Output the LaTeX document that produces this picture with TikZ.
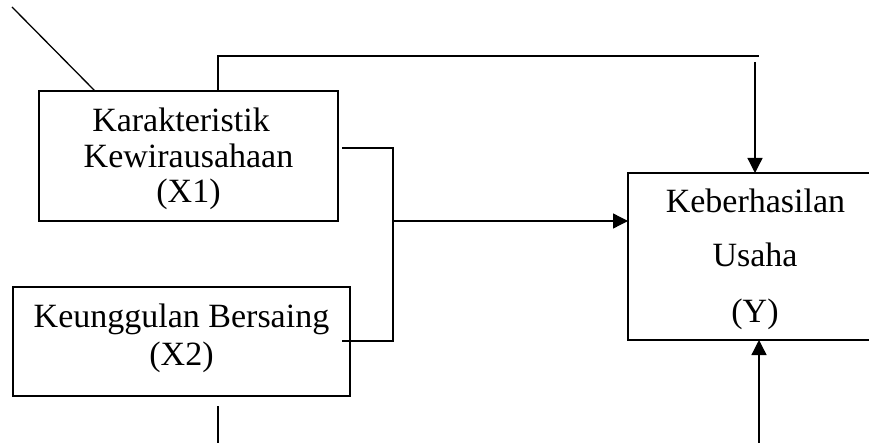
\documentclass[tikz,border=0pt]{standalone}
\usepackage{fontspec}
\setmainfont{Liberation Serif}
\usetikzlibrary{arrows.meta}
\begin{document}
\begin{tikzpicture}[x=1pt,y=-1pt,
  box/.style={draw,line width=1.3pt,inner sep=0pt},
  txt/.style={anchor=base,inner sep=0pt,font=\fontsize{34}{36}\selectfont},
  conn/.style={line width=1.3pt},
  arr/.style={line width=1.3pt,-{Triangle[length=15pt,width=15pt]}}]
\useasboundingbox (0,0) rectangle (869,443);
\clip (0,0) rectangle (869,443);
% boxes
\node[box,minimum width=299pt,minimum height=130pt] (x1) at (188.5,156) {};
\node[box,minimum width=337pt,minimum height=109pt] (x2) at (181.5,341.5) {};
\node[box,minimum width=300pt,minimum height=167pt] (y) at (778,256.5) {};
% texts
\node[txt] (t1a) at (181,132) {Karakteristik};
\node[txt] (t1b) at (188.5,168) {Kewirausahaan};
\node[txt] (t1c) at (188.5,203) {(X1)};
\node[txt] (t2a) at (181.5,327) {Keunggulan Bersaing};
\node[txt] (t2b) at (181.5,365) {(X2)};
\node[txt] (tya) at (755.5,213) {Keberhasilan};
\node[txt] (tyb) at (755,267) {Usaha};
\node[txt] (tyc) at (755,323) {(Y)};
% free ends
\coordinate (d0) at (12,7);
\coordinate (d1) at (95,91);
\coordinate (top0) at (218,91);
\coordinate (top1) at (218,56);
\coordinate (top2) at (759,56);
\coordinate (a0) at (755,62);
\coordinate (a1) at (755,173);
\coordinate (r0) at (342,148);
\coordinate (r1) at (393,148);
\coordinate (r2) at (393,341);
\coordinate (r3) at (342,341);
\coordinate (m0) at (393,221);
\coordinate (m1) at (628,221);
\coordinate (b0) at (218,406);
\coordinate (b1) at (218,443);
\coordinate (u0) at (759,443);
\coordinate (u1) at (759,340);
% connectors
\draw[conn] (d0) -- (d1);
\draw[conn] (top0) -- (top1) -- (top2);
\draw[arr] (a0) -- (a1);
\draw[conn] (r0) -- (r1) -- (r2) -- (r3);
\draw[arr] (m0) -- (m1);
\draw[conn] (b0) -- (b1);
\draw[arr] (u0) -- (u1);
\end{tikzpicture}
\end{document}
